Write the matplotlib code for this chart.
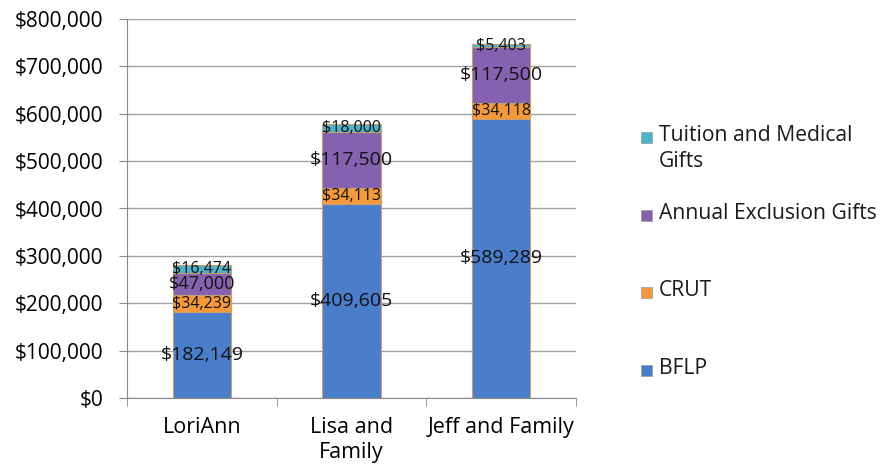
import matplotlib
matplotlib.use("Agg")
import matplotlib.pyplot as plt
import numpy as np
from matplotlib.ticker import FuncFormatter, FixedLocator
from matplotlib.patches import Rectangle

plt.rcParams['font.family'] = ['Open Sans', 'DejaVu Sans']

# data
people = ["LoriAnn", "Lisa and\nFamily", "Jeff and Family"]
bflp = [182149, 409605, 589289]
crut = [34239, 34113, 34118]
annual = [47000, 117500, 117500]
tuition = [16474, 18000, 5403]

series = [("BFLP", bflp, "#4a7ecb"),
          ("CRUT", crut, "#f59a3c"),
          ("Annual Exclusion Gifts", annual, "#8462b0"),
          ("Tuition and Medical\nGifts", tuition, "#4bb4cb")]

W, H = 881.0, 470.0
fig = plt.figure(figsize=(8.81, 4.70), dpi=100)
ax = fig.add_axes([127 / W, 1 - 398 / H, 449 / W, 379 / H])

x = np.arange(len(people))
bottom = np.zeros(len(people))
for name, vals, col in series:
    vals = np.array(vals, dtype=float)
    ax.bar(x, vals, 0.39, bottom=bottom, color=col, edgecolor="#c8a070",
           linewidth=0.8, zorder=3)
    for i, v in enumerate(vals):
        # label size depends on how big the segment is
        if v > 100000:
            size = 14
        elif v > 40000:
            size = 13
        else:
            size = 11.5
        ax.text(x[i], bottom[i] + v / 2, "${:,.0f}".format(v), ha="center",
                va="center", fontsize=size, color="#111111", zorder=4)
    bottom += vals

ax.set_xlim(-0.5, 2.5)
ax.set_ylim(0, 800000)
ax.set_yticks(np.arange(0, 800001, 100000))
ax.yaxis.set_major_formatter(FuncFormatter(lambda v, p: "${:,.0f}".format(v)))
ax.set_xticks(x)
ax.set_xticklabels(people, linespacing=1.2)
ax.xaxis.set_minor_locator(FixedLocator([-0.5, 0.5, 1.5, 2.5]))
ax.tick_params(axis="x", which="major", length=0, labelsize=15.5, pad=14)
ax.tick_params(axis="x", which="minor", length=6, color="#888888")
ax.tick_params(axis="y", length=6, color="#888888", labelsize=15, pad=11)
ax.grid(axis="y", color="#a0a0a0", linewidth=1, zorder=0)
for s in ["top", "right"]:
    ax.spines[s].set_visible(False)
ax.spines["left"].set_color("#888888")
ax.spines["bottom"].set_color("#888888")

# legend drawn by hand so entries are evenly spaced by their first line
leg_y = [137, 215, 292, 370]
for (name, vals, col), yc in zip(series[::-1], leg_y):
    fig.add_artist(Rectangle((641 / W, 1 - (yc + 6) / H), 11 / W, 11 / H,
                             transform=fig.transFigure, facecolor=col,
                             edgecolor="#999999", linewidth=0.5))
    fig.text(659 / W, 1 - (yc - 12) / H, name, va="top", ha="left",
             fontsize=15.2, color="#1a1a1a", linespacing=1.3)

fig.savefig("out.png", dpi=100)
